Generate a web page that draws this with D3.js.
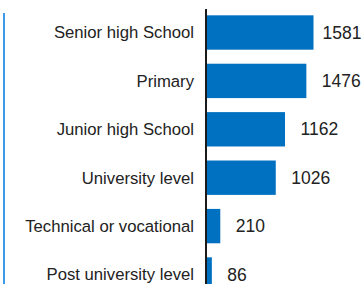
<!DOCTYPE html>
<html>
<head>
<meta charset="utf-8">
<script src="https://cdn.jsdelivr.net/npm/d3@7"></script>
<style>
  body { margin: 0; background: #fff; }
  svg { display: block; }
  text { font-family: "Liberation Sans", Arial, sans-serif; fill: #222; }
</style>
</head>
<body>
<svg id="chart" width="363" height="284"></svg>
<script>
var categories = ["Senior high School", "Primary", "Junior high School",
  "University level", "Technical or vocational", "Post university level"];
var values = [1581, 1476, 1162, 1026, 210, 86];

var width = 363;
var height = 284;
var axisX = 206;

var svg = d3.select("#chart");

// bar scales
var x = d3.scaleLinear()
  .domain([0, 1581])
  .range([axisX, axisX + 107.5]);

var y = d3.scaleBand()
  .domain(categories)
  .range([8.3, 8.3 + 48.4 * categories.length])
  .paddingInner(0.29)
  .paddingOuter(0.145);

// left blue rule
svg.append("line")
  .attr("x1", 4).attr("x2", 4)
  .attr("y1", 13).attr("y2", height)
  .attr("stroke", "#3d9be9")
  .attr("stroke-width", 2);

// bars
svg.selectAll("rect.bar")
  .data(values)
  .enter().append("rect")
  .attr("class", "bar")
  .attr("x", axisX)
  .attr("y", function (d, i) { return y(categories[i]); })
  .attr("width", function (d) { return x(d) - axisX; })
  .attr("height", y.bandwidth())
  .attr("fill", "#0070c0");

// axis line
svg.append("line")
  .attr("x1", axisX).attr("x2", axisX)
  .attr("y1", 9).attr("y2", height)
  .attr("stroke", "#1a1a1a")
  .attr("stroke-width", 2);

// category labels
svg.selectAll("text.cat")
  .data(categories)
  .enter().append("text")
  .attr("class", "cat")
  .attr("x", axisX - 12)
  .attr("y", function (d) { return y(d) + y.bandwidth() / 2; })
  .attr("dy", "0.35em")
  .attr("text-anchor", "end")
  .style("font-size", "16.7px")
  .text(function (d) { return d; });

// value labels
svg.selectAll("text.val")
  .data(values)
  .enter().append("text")
  .attr("class", "val")
  .attr("x", function (d) { return Math.min(x(d) + 15.5, 322.5); })
  .attr("y", function (d, i) { return y(categories[i]) + y.bandwidth() / 2; })
  .attr("dy", "0.35em")
  .style("font-size", "17.5px")
  .text(function (d) { return d; });
</script>
</body>
</html>
